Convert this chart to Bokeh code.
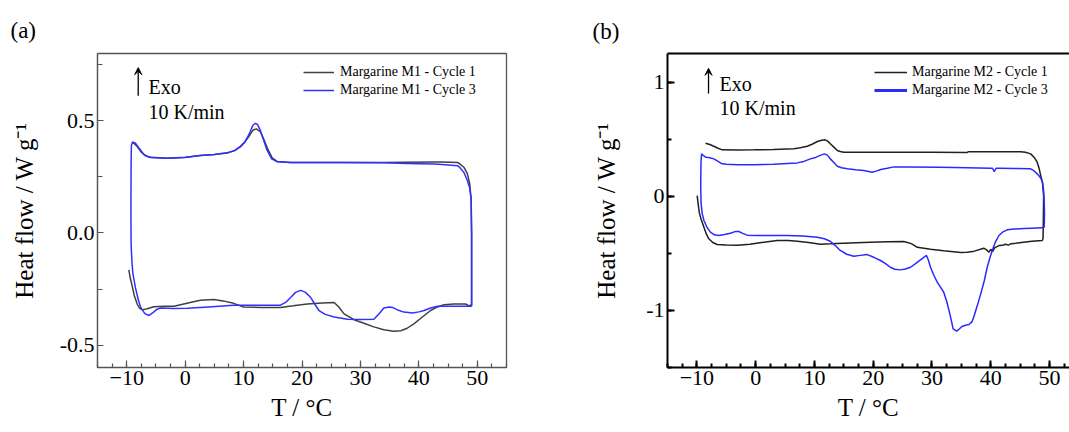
from bokeh.plotting import figure
from bokeh.models import (Range1d, FixedTicker, Label, Arrow, VeeHead, Legend,
                          LegendItem, LinearAxis)
from bokeh.layouts import row
from bokeh.embed import file_html
from bokeh.resources import INLINE

SERIF = "Liberation Serif"

# ---------------- data ----------------
# Panel (a) Margarine M1
A_C1_T = [-9.64, -9.4, -9.06, -8.7, -8.2, -7.8, -7.35, -6.5, -5.35, -3.5, -1.9, 0.5, 2.6, 4.9, 6.5,
          8.3, 10.0, 13.0, 16.3, 18.5, 20.9, 23.5, 25.5, 26.3, 27.2, 28.9, 30.6, 32.3, 34.0, 35.7,
          36.9, 38.0, 39.2, 40.6, 42.0, 43.2, 44.3, 46.0, 48.0, 48.6, 49.0,
          49.0, 49.0, 48.95, 48.7, 48.3, 47.7, 47.0, 46.6, 44.0, 42.6, 38.0, 34.0, 25.5, 18.0,
          15.8, 14.9, 14.2, 13.5, 12.9, 12.2, 11.6, 10.9, 10.2, 9.5, 8.5, 7.2, 5.0, 2.6, 0.0,
          -3.07, -5.9, -6.8, -7.5, -8.2, -8.8, -9.1]
A_C1_HF = [-0.165, -0.20, -0.237, -0.28, -0.317, -0.335, -0.343, -0.338, -0.329, -0.327, -0.327,
           -0.312, -0.300, -0.297, -0.303, -0.314, -0.330, -0.332, -0.332, -0.325, -0.317, -0.312,
           -0.310, -0.330, -0.361, -0.387, -0.403, -0.419, -0.432, -0.438, -0.436, -0.425, -0.404,
           -0.375, -0.346, -0.330, -0.320, -0.317, -0.317, -0.325, -0.32,
           -0.20, 0.0, 0.15, 0.22, 0.264, 0.293, 0.308, 0.314, 0.316, 0.316, 0.315, 0.314, 0.314,
           0.314, 0.318, 0.335, 0.37, 0.415, 0.450, 0.464, 0.458, 0.43, 0.405, 0.385, 0.368,
           0.357, 0.350, 0.345, 0.337, 0.333, 0.337, 0.345, 0.36, 0.385, 0.40, 0.40]

A_C3_T = [49.05, 49.05, 48.95, 48.7, 48.3, 47.7, 47.0, 46.6, 44.0, 42.6, 38.0, 34.0, 25.5, 18.0,
          15.8, 14.8, 14.0, 13.5, 12.9, 12.4, 12.05, 11.6, 10.9, 10.2, 9.5, 8.5, 7.2, 5.0, 2.6,
          0.0, -3.07, -5.9, -6.6, -7.07, -7.8, -8.5, -9.0, -9.2, -9.25, -9.28, -9.25, -9.1,
          -8.95, -8.5, -8.0, -7.6, -6.9, -6.2, -5.5, -4.8, -4.2, -2.0, 0.36, 4.0, 8.3, 12.0,
          16.3, 17.2, 18.05, 18.9, 19.8, 20.6, 21.5, 22.2, 22.9, 24.0, 25.5, 27.8, 30.0, 32.3,
          33.2, 34.0, 35.0, 35.5, 36.5, 37.45, 38.9, 40.0, 40.9, 42.0, 43.2, 46.0, 48.9, 49.05]
A_C3_HF = [-0.327, 0.0, 0.15, 0.20, 0.234, 0.27, 0.292, 0.300, 0.305, 0.307, 0.310, 0.313, 0.314,
           0.314, 0.317, 0.33, 0.37, 0.409, 0.455, 0.483, 0.489, 0.480, 0.438, 0.405, 0.387,
           0.367, 0.356, 0.350, 0.345, 0.336, 0.333, 0.336, 0.342, 0.350, 0.375, 0.400, 0.406,
           0.39, 0.30, 0.10, -0.05, -0.13, -0.18, -0.245, -0.300, -0.332, -0.360, -0.368, -0.355,
           -0.340, -0.335, -0.337, -0.336, -0.330, -0.323, -0.322, -0.322, -0.31, -0.288, -0.265,
           -0.256, -0.265, -0.288, -0.318, -0.346, -0.363, -0.375, -0.385, -0.386, -0.385, -0.36,
           -0.335, -0.330, -0.332, -0.345, -0.353, -0.357, -0.352, -0.346, -0.335, -0.327, -0.327,
           -0.327, -0.327]

# Panel (b) Margarine M2
B_C1_T = [-9.95, -9.8, -9.6, -9.3, -8.8, -8.4, -7.97, -7.3, -6.55, -5.0, -3.14, -1.0, 1.0, 3.67,
          5.5, 7.1, 9.0, 11.0, 12.7, 16.0, 19.5, 22.5, 25.2, 26.5, 27.5, 29.75, 32.0, 34.9, 36.0,
          37.2, 38.8, 39.3, 39.7, 40.0, 40.3, 40.7, 41.4, 42.0, 42.5, 43.0, 43.4, 44.0, 44.5,
          45.6, 47.0, 48.76, 48.9,
          48.95, 49.0, 48.8, 48.5, 48.2, 47.9, 47.4, 46.8, 45.9, 45.1, 41.0, 36.2, 36.0, 30.0,
          25.2, 15.0, 14.4, 13.9, 13.3, 12.7, 12.2, 11.7, 11.1, 10.5, 9.6, 8.77, 7.6, 6.5, 3.0,
          -0.31, -3.0, -5.7, -6.4, -7.12, -7.8, -8.53]
B_C1_HF = [0.005, -0.06, -0.14, -0.20, -0.271, -0.33, -0.373, -0.405, -0.423, -0.428, -0.429,
           -0.42, -0.405, -0.388, -0.388, -0.394, -0.405, -0.42, -0.417, -0.41, -0.403, -0.398,
           -0.397, -0.415, -0.447, -0.464, -0.478, -0.493, -0.49, -0.481, -0.455, -0.47, -0.49,
           -0.465, -0.485, -0.45, -0.432, -0.43, -0.42, -0.428, -0.417, -0.415, -0.41, -0.403,
           -0.395, -0.388, -0.37,
           -0.2, 0.0, 0.12, 0.181, 0.25, 0.298, 0.34, 0.371, 0.385, 0.39, 0.39, 0.39, 0.383,
           0.385, 0.385, 0.385, 0.392, 0.40, 0.43, 0.459, 0.485, 0.494, 0.488, 0.479, 0.455,
           0.438, 0.425, 0.415, 0.41, 0.406, 0.405, 0.406, 0.42, 0.438, 0.453, 0.464]

B_C3_T = [49.1, 49.0, 48.8, 48.5, 47.9, 47.3, 46.8, 44.0, 41.5, 40.9, 40.6, 40.3, 40.0, 36.0,
          31.2, 26.0, 23.5, 22.4, 21.3, 20.5, 19.8, 18.4, 17.0, 15.6, 14.6, 13.9, 13.3, 12.7,
          12.2, 11.7, 11.0, 10.2, 9.33, 8.2, 7.07, 3.0, -0.3, -3.0, -5.0, -5.7, -6.4, -7.1,
          -8.0, -8.5, -9.0, -9.2, -9.3, -9.35, -9.3, -9.1, -8.8, -8.3, -7.7, -7.0, -6.27, -5.3,
          -4.3, -3.5, -2.87, -2.2, -1.44, 0.0, 5.37, 8.0, 10.5, 11.7, 12.7, 13.5, 14.4, 15.5,
          16.7, 17.8, 18.98, 20.1, 21.25, 22.1, 22.9, 23.7, 24.6, 25.5, 26.35, 27.2, 28.05,
          28.6, 29.07, 29.4, 29.75, 30.3, 30.9, 31.5, 32.0, 32.5, 32.9, 33.3, 33.6, 34.2, 34.6,
          35.1, 35.7, 36.3, 36.8, 37.1, 37.7, 38.3, 38.9, 39.4, 39.8, 40.25, 40.8, 41.4, 42.0,
          42.8, 44.0, 45.6, 47.0, 48.76, 49.1, 49.15, 49.1]
B_C3_HF = [-0.05, 0.05, 0.123, 0.16, 0.196, 0.225, 0.24, 0.243, 0.245, 0.245, 0.216, 0.245,
           0.245, 0.25, 0.254, 0.256, 0.257, 0.245, 0.234, 0.22, 0.21, 0.225, 0.232, 0.24, 0.25,
           0.263, 0.295, 0.327, 0.36, 0.371, 0.358, 0.34, 0.327, 0.305, 0.292, 0.28, 0.275,
           0.276, 0.28, 0.284, 0.305, 0.327, 0.34, 0.342, 0.36, 0.371, 0.3, 0.1, -0.05, -0.15,
           -0.213, -0.27, -0.315, -0.338, -0.344, -0.335, -0.324, -0.31, -0.309, -0.325, -0.341,
           -0.343, -0.344, -0.348, -0.359, -0.372, -0.394, -0.43, -0.475, -0.508, -0.525,
           -0.518, -0.511, -0.535, -0.563, -0.59, -0.622, -0.64, -0.645, -0.638, -0.622, -0.59,
           -0.557, -0.535, -0.519, -0.56, -0.622, -0.69, -0.753, -0.80, -0.841, -0.92, -1.0,
           -1.09, -1.161, -1.182, -1.165, -1.141, -1.13, -1.124, -1.10, -1.06, -0.96, -0.855,
           -0.74, -0.622, -0.55, -0.475, -0.40, -0.344, -0.315, -0.294, -0.288, -0.283, -0.28,
           -0.277, -0.27, -0.15, -0.05]

X_TICKS = [-10, 0, 10, 20, 30, 40, 50]
X_MINOR = [-15, -12.5, -10, -7.5, -5, -2.5, 0, 2.5, 5, 7.5, 10, 12.5, 15, 17.5, 20, 22.5, 25,
           27.5, 30, 32.5, 35, 37.5, 40, 42.5, 45, 47.5, 50, 52.5, 55]
A_Y_TICKS = [-0.5, 0.0, 0.5]
A_Y_LABELS = ["-0.5", "0.0", "0.5"]
A_Y_MINOR = [-0.5, -0.25, 0.0, 0.25, 0.5, 0.75]
B_Y_TICKS = [-1, 0, 1]
B_Y_LABELS = ["-1", "0", "1"]
B_Y_MINOR = [-1.5, -1, -0.5, 0, 0.5, 1]

A_LABELS = ["Margarine M1 - Cycle 1", "Margarine M1 - Cycle 3"]
B_LABELS = ["Margarine M2 - Cycle 1", "Margarine M2 - Cycle 3"]
X_TITLE = "T / °C"
Y_TITLE = "Heat flow / W g⁻¹"


def style_axis(ax, color, width, label_size="22px"):
    ax.axis_line_color = color
    ax.axis_line_width = width
    ax.major_tick_line_color = color
    ax.minor_tick_line_color = color
    ax.major_tick_line_width = width
    ax.minor_tick_line_width = width
    ax.major_tick_out = 0
    ax.minor_tick_out = 0
    ax.major_label_text_font = SERIF
    ax.major_label_text_font_size = label_size
    ax.major_label_text_color = "black"
    ax.major_label_standoff = 3


def titles(p, ystandoff):
    xa = p.xaxis[0]
    xa.axis_label = X_TITLE
    xa.axis_label_text_font = SERIF
    xa.axis_label_text_font_size = "25px"
    xa.axis_label_text_font_style = "normal"
    xa.axis_label_text_color = "black"
    xa.axis_label_standoff = 6
    ya = p.yaxis[0]
    ya.axis_label = Y_TITLE
    ya.axis_label_text_font = SERIF
    ya.axis_label_text_font_size = "25px"
    ya.axis_label_text_font_style = "normal"
    ya.axis_label_text_color = "black"
    ya.axis_label_standoff = ystandoff


def panel_tag(p, text, offset, standoff):
    p.title.text = text
    p.title.align = "left"
    p.title.offset = offset
    p.title.standoff = standoff
    p.title.text_font = SERIF
    p.title.text_font_size = "23px"
    p.title.text_font_style = "normal"
    p.title.text_color = "black"


# ---------------- panel (a) ----------------
pa = figure(width=540, height=432, x_range=Range1d(-15, 55), y_range=Range1d(-0.6, 0.8),
            output_backend="svg", toolbar_location=None,
            min_border_left=97, min_border_right=34, min_border_top=47, min_border_bottom=63)
pa.xgrid.visible = False
pa.ygrid.visible = False
pa.background_fill_color = "white"
pa.border_fill_color = "white"
pa.outline_line_color = "#555555"
pa.outline_line_width = 1.3
pa.outline_line_alpha = 1.0

style_axis(pa.xaxis[0], "#555555", 1.2)
style_axis(pa.yaxis[0], "#555555", 1.2)
pa.xaxis[0].ticker = FixedTicker(ticks=X_TICKS, minor_ticks=X_MINOR)
pa.xaxis[0].major_tick_in = 7
pa.xaxis[0].minor_tick_in = 4
pa.yaxis[0].ticker = FixedTicker(ticks=A_Y_TICKS, minor_ticks=A_Y_MINOR)
pa.yaxis[0].major_label_overrides = dict(zip(A_Y_TICKS, A_Y_LABELS))
pa.yaxis[0].major_tick_in = 6
pa.yaxis[0].minor_tick_in = 5
titles(pa, 19)
panel_tag(pa, "(a)", -87, 22)

ra1 = pa.line(A_C1_T, A_C1_HF, line_color="#404040", line_width=1.5)
ra3 = pa.line(A_C3_T, A_C3_HF, line_color="#3030ff", line_width=1.5)

leg_a = Legend(items=[LegendItem(label=A_LABELS[0], renderers=[ra1]),
                      LegendItem(label=A_LABELS[1], renderers=[ra3])],
               location=(206, 268), background_fill_alpha=0, border_line_alpha=0,
               label_text_font=SERIF, label_text_font_size="14px", label_text_color="black",
               glyph_width=31, glyph_height=18, label_height=18, label_standoff=6, spacing=0,
               padding=0, margin=0)
pa.add_layout(leg_a)

pa.add_layout(Arrow(end=VeeHead(size=7, fill_color="black", line_color="black", line_width=1),
                    x_start=-8.03, y_start=0.612, x_end=-8.03, y_end=0.737,
                    line_color="black", line_width=1.3))
pa.add_layout(Label(x=-6.27, y=0.652, text="Exo", text_font=SERIF, text_font_size="20px",
                    text_baseline="alphabetic", text_color="black"))
pa.add_layout(Label(x=-6.27, y=0.539, text="10 K/min", text_font=SERIF, text_font_size="20px",
                    text_baseline="alphabetic", text_color="black"))

# ---------------- panel (b) ----------------
pb = figure(width=529, height=432, x_range=Range1d(-15, 53.4), y_range=Range1d(-1.5, 1.25),
            output_backend="svg", toolbar_location=None,
            min_border_left=127, min_border_right=0, min_border_top=53, min_border_bottom=65)
pb.xgrid.visible = False
pb.ygrid.visible = False
pb.background_fill_color = "white"
pb.border_fill_color = "white"
pb.outline_line_color = None

style_axis(pb.xaxis[0], "black", 2)
style_axis(pb.yaxis[0], "black", 2)
pb.xaxis[0].ticker = FixedTicker(ticks=X_TICKS, minor_ticks=X_MINOR)
pb.xaxis[0].major_tick_in = 7
pb.xaxis[0].minor_tick_in = 4
pb.yaxis[0].ticker = FixedTicker(ticks=B_Y_TICKS, minor_ticks=B_Y_MINOR)
pb.yaxis[0].major_label_overrides = dict(zip(B_Y_TICKS, B_Y_LABELS))
pb.yaxis[0].major_tick_in = 7
pb.yaxis[0].minor_tick_in = 4
titles(pb, 23)

top_b = LinearAxis(ticker=FixedTicker(ticks=[]), axis_line_color="black", axis_line_width=2,
                   major_label_text_font_size="0px", major_label_standoff=0,
                   major_tick_in=0, major_tick_out=0, minor_tick_in=0, minor_tick_out=0)
pb.add_layout(top_b, "above")
panel_tag(pb, "(b)", -75, 19)

rb1 = pb.line(B_C1_T, B_C1_HF, line_color="#202020", line_width=1.5)
rb3 = pb.line(B_C3_T, B_C3_HF, line_color="#2a2aff", line_width=1.5)
rb3_key = pb.line([float("nan")], [float("nan")], line_color="#2a2aff", line_width=3)

leg_b = Legend(items=[LegendItem(label=B_LABELS[0], renderers=[rb1]),
                      LegendItem(label=B_LABELS[1], renderers=[rb3_key])],
               location=(207, 268), background_fill_alpha=0, border_line_alpha=0,
               label_text_font=SERIF, label_text_font_size="14px", label_text_color="black",
               glyph_width=33, glyph_height=18, label_height=18, label_standoff=5, spacing=0,
               padding=0, margin=0)
pb.add_layout(leg_b)

pb.add_layout(Arrow(end=VeeHead(size=7, fill_color="black", line_color="black", line_width=1),
                    x_start=-8.02, y_start=0.899, x_end=-8.02, y_end=1.12,
                    line_color="black", line_width=1.3))
pb.add_layout(Label(x=-6.15, y=0.987, text="Exo", text_font=SERIF, text_font_size="20px",
                    text_baseline="alphabetic", text_color="black"))
pb.add_layout(Label(x=-6.15, y=0.777, text="10 K/min", text_font=SERIF, text_font_size="20px",
                    text_baseline="alphabetic", text_color="black"))

layout = row(pa, pb)
open("out.html", "w").write(file_html(layout, INLINE))
